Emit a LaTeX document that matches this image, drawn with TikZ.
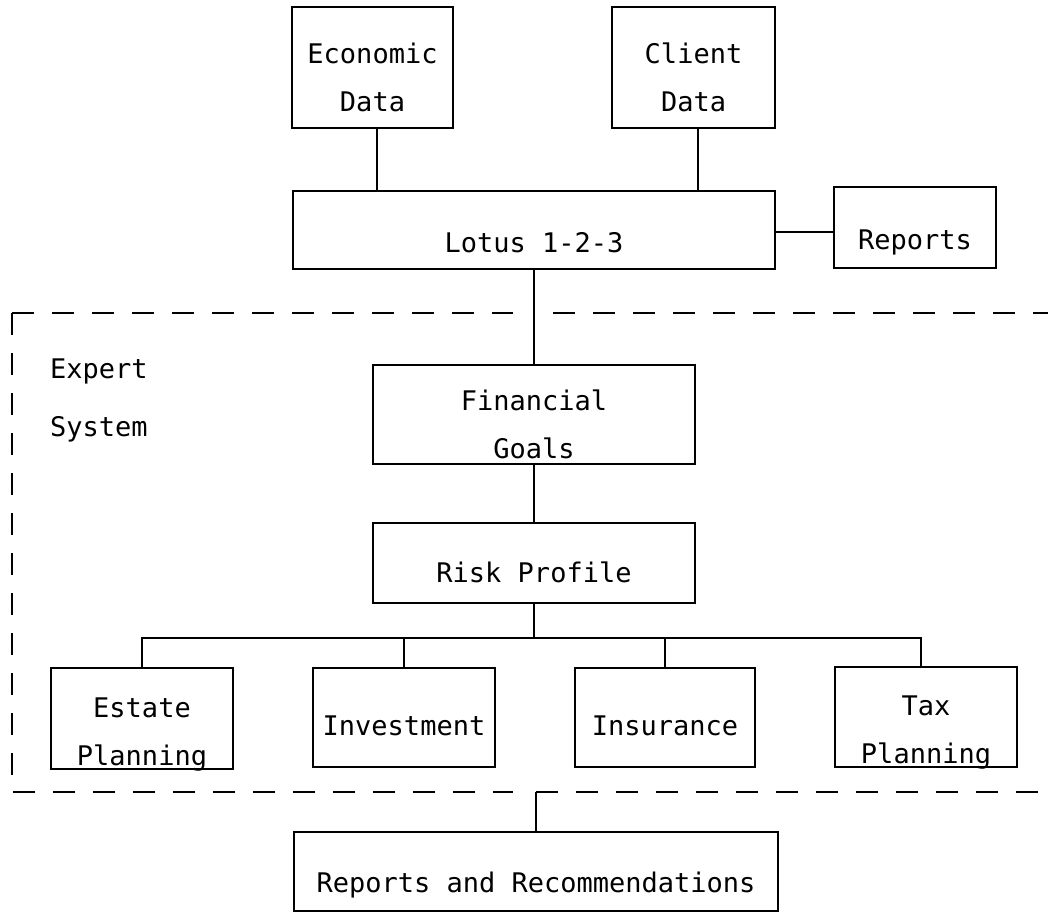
\documentclass[tikz,border=0pt]{standalone}
\usepackage{fontspec}
\setmonofont{DejaVu Sans Mono}
\newcommand{\dgfont}{\fontsize{27}{48}\selectfont\ttfamily}
\newcommand{\lowtxt}[2][11pt]{\raisebox{-#1}[\height][\depth]{\begin{tabular}{@{}c@{}}#2\end{tabular}}}
\begin{document}
\begin{tikzpicture}[x=1pt,y=-1pt,
  box/.style={draw, line width=2.4pt, inner sep=0pt, font=\dgfont},
  link/.style={line width=2.4pt},
  bound/.style={line width=2.4pt, dash pattern=on 22pt off 18pt}]
\useasboundingbox[fill=white] (0,0) rectangle (1048,913);

% boxes
\node[box, minimum width=161pt, minimum height=121pt] (eco) at (372.5,67.5) {\lowtxt[10pt]{Economic\\Data}};
\node[box, minimum width=163pt, minimum height=121pt] (cli) at (693.5,67.5) {\lowtxt[10pt]{Client\\Data}};
\node[box, minimum width=482pt, minimum height=78pt] (lotus) at (534,230) {\lowtxt[13pt]{Lotus 1-2-3}};
\node[box, minimum width=162pt, minimum height=81pt] (rep) at (915,227.5) {\lowtxt[12pt]{Reports}};
\node[box, minimum width=322pt, minimum height=99pt] (fin) at (534,414.5) {\lowtxt[10pt]{Financial\\Goals}};
\node[box, minimum width=322pt, minimum height=80pt] (risk) at (534,563) {\lowtxt[10pt]{Risk Profile}};
\node[box, minimum width=182pt, minimum height=101pt] (est) at (142,718.5) {\lowtxt[13pt]{Estate\\Planning}};
\node[box, minimum width=182pt, minimum height=99pt] (inv) at (404,717.5) {\lowtxt[8pt]{Investment}};
\node[box, minimum width=180pt, minimum height=99pt] (ins) at (665,717.5) {\lowtxt[8pt]{Insurance}};
\node[box, minimum width=182pt, minimum height=100pt] (tax) at (926,717) {\lowtxt[13pt]{Tax\\Planning}};
\node[box, minimum width=484pt, minimum height=79pt] (rar) at (536,871.5) {\lowtxt[11pt]{Reports and Recommendations}};

% label of the expert system region
\node[anchor=west, inner sep=0pt, font=\fontsize{27}{58}\selectfont\ttfamily] (es) at (50,396)
  {\begin{tabular}{@{}l@{}}Expert\\System\end{tabular}};

% connectors
\draw[link] ([xshift=4.5pt]eco.south) -- ([xshift=4.5pt]eco.south |- lotus.north);
\draw[link] ([xshift=4.5pt]cli.south) -- ([xshift=4.5pt]cli.south |- lotus.north);
\draw[link] ([yshift=-2pt]lotus.east) -- ([yshift=-2pt]lotus.east -| rep.west);
\draw[link] (lotus.south) -- (fin.north);
\draw[link] (fin.south) -- (risk.north);
\draw[link] (risk.south) -- ++(0,34) coordinate (br);
\draw[link] (est.north) |- (br) -| ([xshift=-5pt]tax.north);
\draw[link] (inv.north) -- (inv.north |- br);
\draw[link] (ins.north) -- (ins.north |- br);

% expert system boundary
\coordinate (tl) at (12,313);
\coordinate (tg) at (513,313);
\coordinate (tr1) at (553,313);
\coordinate (tr) at (1060,313);
\coordinate (bl) at (12,792);
\coordinate (bg) at (513,792);
\coordinate (bj) at (rar.north |- bg);
\coordinate (brr) at (1060,792);
\draw[bound] (tl) -- (tg);
\draw[bound] (tr1) -- (tr);
\draw[bound] (tl) -- (bl) -- (bg);
\draw[bound] (bj) -- (brr);
\draw[link] (bj) -- (rar.north);
\end{tikzpicture}
\end{document}
